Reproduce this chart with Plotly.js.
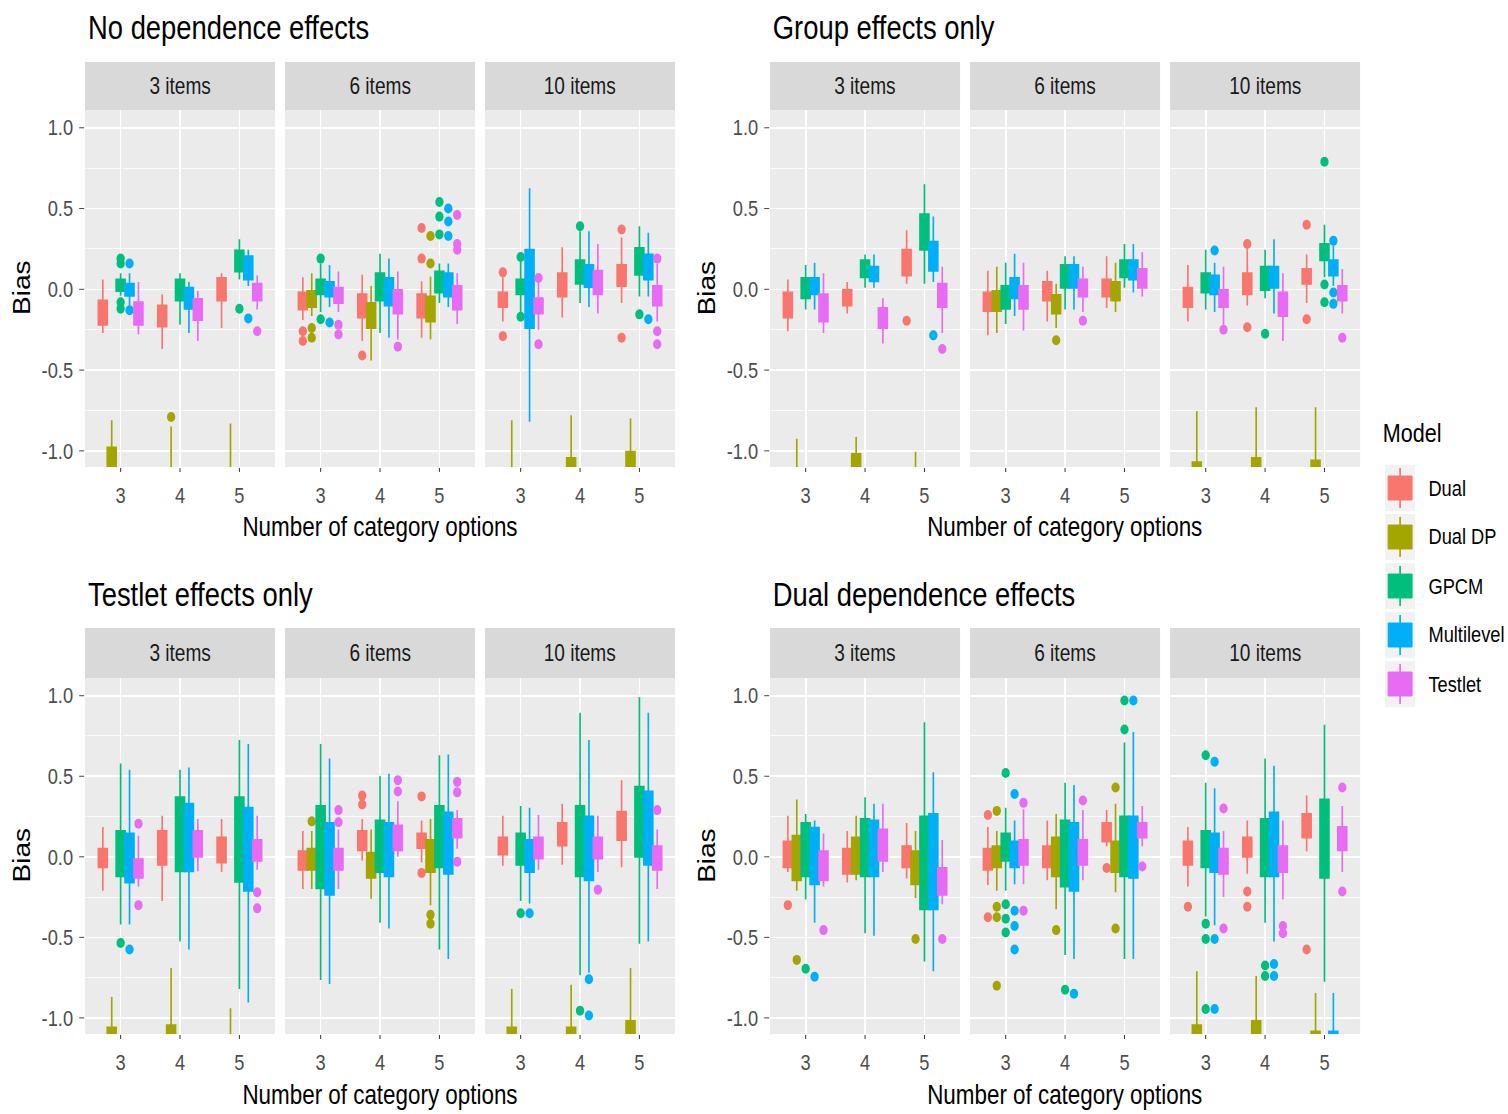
<!DOCTYPE html>
<html><head><meta charset="utf-8">
<script src="https://cdn.plot.ly/plotly-3.0.1.min.js"></script>
<style>
html,body{margin:0;padding:0;background:#fff;overflow:hidden;width:1508px;height:1114px}
#chart{transform-origin:0 0}
</style>
</head><body><div id="chart"></div>
<script>
const models = ['Dual', 'Dual DP', 'GPCM', 'Multilevel', 'Testlet'];
const modelColors = ['#F8766D', '#A3A500', '#00BF7D', '#00B0F6', '#E76BF3'];
const categories = ['3', '4', '5'];
const facetLabels = ['3 items', '6 items', '10 items'];
const panelTitles = ['No dependence effects', 'Group effects only', 'Testlet effects only', 'Dual dependence effects'];
const yTickVals = [-1, -0.5, 0, 0.5, 1];
const yTickText = ['-1.0', '-0.5', '0.0', '0.5', '1.0'];
const yMinorVals = [-0.75, -0.25, 0.25, 0.75];
const xTitle = 'Number of category options';
const yTitle = 'Bias';
const legendTitle = 'Model';

// per model -> per category (3,4,5): [lower whisker, q1, median, q3, upper whisker]
const noDep3 = [
  [[-0.27,-0.22,-0.15,-0.07,0.06],[-0.37,-0.23,-0.16,-0.10,-0.03],[-0.24,-0.07,0.00,0.07,0.10]],
  [[-1.40,-1.25,-1.10,-0.98,-0.81],[-1.50,-1.35,-1.25,-1.15,-0.85],[-1.50,-1.35,-1.25,-1.15,-0.83]],
  [[-0.04,-0.01,0.03,0.06,0.10],[-0.22,-0.07,0.00,0.06,0.10],[0.06,0.11,0.17,0.24,0.31]],
  [[-0.10,-0.04,0.00,0.035,0.10],[-0.27,-0.12,-0.06,0.01,0.045],[0.02,0.06,0.13,0.205,0.245]],
  [[-0.28,-0.22,-0.15,-0.08,0.045],[-0.32,-0.19,-0.12,-0.06,-0.01],[-0.125,-0.07,-0.02,0.035,0.085]]
];
const noDep3Out = [[[],[],[]],[[],[-0.79],[]],[[0.19,0.16,-0.08,-0.12],[],[-0.12]],[[0.16,-0.13],[],[-0.18]],[[],[],[-0.26]]];

const noDep6 = [
  [[-0.19,-0.125,-0.07,-0.02,0.075],[-0.32,-0.175,-0.10,-0.03,0.09],[-0.30,-0.175,-0.10,-0.03,0.05]],
  [[-0.165,-0.11,-0.06,-0.01,0.10],[-0.44,-0.24,-0.16,-0.085,0.02],[-0.31,-0.20,-0.12,-0.045,0.08]],
  [[-0.14,-0.03,0.02,0.06,0.16],[-0.27,-0.07,0.01,0.10,0.22],[-0.085,-0.02,0.05,0.11,0.16]],
  [[-0.11,-0.045,0.00,0.045,0.15],[-0.30,-0.10,-0.01,0.07,0.19],[-0.11,-0.045,0.03,0.10,0.16]],
  [[-0.14,-0.085,-0.04,0.01,0.11],[-0.31,-0.15,-0.08,-0.005,0.11],[-0.215,-0.125,-0.05,0.02,0.10]]
];
const noDep6Out = [[[-0.26,-0.32],[-0.41],[0.38,0.19]],[[-0.24,-0.30],[],[0.33,0.16]],[[0.19,-0.185],[],[0.54,0.45,0.34]],[[-0.205],[],[0.50,0.42,0.33]],[[-0.22,-0.28],[-0.355],[0.46,0.28,0.245]]];

const noDep10 = [
  [[-0.20,-0.11,-0.06,-0.02,0.075],[-0.175,-0.045,0.03,0.10,0.26],[-0.085,0.02,0.08,0.15,0.32]],
  [[-1.50,-1.35,-1.25,-1.15,-0.81],[-1.30,-1.20,-1.10,-1.045,-0.78],[-1.30,-1.20,-1.10,-1.005,-0.80]],
  [[-0.14,-0.03,0.015,0.06,0.17],[-0.085,0.035,0.10,0.18,0.36],[-0.045,0.09,0.17,0.255,0.39]],
  [[-0.82,-0.24,0.00,0.245,0.625],[-0.11,0.015,0.08,0.15,0.36],[-0.045,0.06,0.14,0.215,0.35]],
  [[-0.25,-0.15,-0.10,-0.055,0.04],[-0.15,-0.03,0.04,0.115,0.28],[-0.20,-0.10,-0.04,0.02,0.16]]
];
const noDep10Out = [[[0.105,-0.29],[],[0.37,-0.30]],[[],[],[]],[[0.20,-0.17],[0.39],[-0.155]],[[],[],[-0.185]],[[0.07,-0.34],[],[0.19,-0.26,-0.34]]];

const grp3 = [
  [[-0.26,-0.175,-0.10,-0.02,0.06],[-0.15,-0.10,-0.05,-0.005,0.045],[0.035,0.085,0.16,0.245,0.365]],
  [[-1.50,-1.35,-1.25,-1.15,-0.925],[-1.30,-1.20,-1.10,-1.02,-0.915],[-1.50,-1.35,-1.25,-1.15,-1.005]],
  [[-0.125,-0.055,0.01,0.07,0.15],[0.01,0.075,0.13,0.18,0.215],[0.035,0.245,0.35,0.465,0.65]],
  [[-0.125,-0.03,0.02,0.07,0.165],[0.01,0.05,0.10,0.14,0.215],[0.045,0.115,0.20,0.295,0.45]],
  [[-0.27,-0.20,-0.12,-0.03,0.10],[-0.335,-0.24,-0.18,-0.115,-0.055],[-0.27,-0.11,-0.04,0.035,0.14]]
];
const grp3Out = [[[],[],[-0.195]],[[],[],[]],[[],[],[]],[[],[],[-0.285]],[[],[],[-0.37]]];

const grp6 = [
  [[-0.285,-0.135,-0.08,-0.02,0.115],[-0.20,-0.07,-0.01,0.045,0.115],[-0.115,-0.045,0.01,0.06,0.205]],
  [[-0.27,-0.135,-0.07,-0.01,0.14],[-0.24,-0.15,-0.09,-0.035,0.035],[-0.14,-0.07,-0.01,0.045,0.165]],
  [[-0.215,-0.12,-0.05,0.02,0.165],[-0.125,0.01,0.08,0.15,0.205],[0.01,0.075,0.13,0.18,0.28]],
  [[-0.165,-0.055,0.01,0.07,0.22],[-0.125,0.01,0.08,0.15,0.205],[-0.02,0.06,0.12,0.18,0.28]],
  [[-0.255,-0.12,-0.05,0.02,0.165],[-0.14,-0.045,0.01,0.06,0.14],[-0.045,0.01,0.07,0.125,0.23]]
];
const grp6Out = [[[],[],[]],[[],[-0.315],[]],[[],[],[]],[[],[],[]],[[],[-0.195],[]]];

const grp10 = [
  [[-0.20,-0.11,-0.05,0.01,0.15],[-0.10,-0.03,0.03,0.10,0.25],[-0.085,0.035,0.08,0.125,0.215]],
  [[-1.30,-1.20,-1.12,-1.07,-0.755],[-1.30,-1.20,-1.10,-1.045,-0.73],[-1.30,-1.20,-1.12,-1.06,-0.73]],
  [[-0.125,-0.02,0.04,0.10,0.245],[-0.055,-0.005,0.07,0.14,0.245],[0.075,0.18,0.23,0.28,0.40]],
  [[-0.14,-0.03,0.03,0.085,0.165],[-0.15,0.01,0.07,0.14,0.31],[0.02,0.085,0.13,0.18,0.27]],
  [[-0.22,-0.11,-0.06,-0.005,0.14],[-0.32,-0.165,-0.09,-0.02,0.10],[-0.15,-0.07,-0.02,0.02,0.125]]
];
const grp10Out = [[[],[0.28,-0.235],[0.40,-0.185]],[[],[],[]],[[],[-0.275],[0.79,0.03,-0.08]],[[0.24],[],[0.30,-0.02,-0.09]],[[-0.25],[],[-0.30]]];

const tst3 = [
  [[-0.21,-0.065,-0.01,0.05,0.185],[-0.275,-0.05,0.05,0.16,0.255],[-0.095,-0.035,0.04,0.12,0.235]],
  [[-1.30,-1.20,-1.10,-1.06,-0.87],[-1.30,-1.20,-1.10,-1.045,-0.69],[-1.50,-1.35,-1.25,-1.15,-0.94]],
  [[-0.42,-0.12,0.02,0.16,0.58],[-0.525,-0.09,0.14,0.37,0.54],[-0.82,-0.155,0.11,0.37,0.725]],
  [[-0.42,-0.16,-0.01,0.145,0.54],[-0.575,-0.09,0.12,0.33,0.555],[-0.905,-0.21,0.05,0.305,0.70]],
  [[-0.185,-0.13,-0.07,-0.015,0.13],[-0.09,0.00,0.08,0.16,0.235],[-0.08,-0.025,0.04,0.105,0.255]]
];
const tst3Out = [[[],[],[]],[[],[],[]],[[-0.535],[],[]],[[-0.575],[],[]],[[0.205,-0.30],[],[-0.22,-0.32]]];

const tst6 = [
  [[-0.20,-0.08,-0.02,0.035,0.16],[-0.025,0.04,0.10,0.16,0.235],[-0.035,0.055,0.10,0.145,0.225]],
  [[-0.20,-0.08,-0.01,0.05,0.16],[-0.26,-0.13,-0.05,0.025,0.17],[-0.30,-0.095,0.00,0.105,0.235]],
  [[-0.765,-0.195,0.06,0.315,0.70],[-0.41,-0.095,0.06,0.225,0.50],[-0.575,-0.065,0.12,0.315,0.63]],
  [[-0.79,-0.235,-0.01,0.21,0.61],[-0.445,-0.12,0.045,0.21,0.515],[-0.635,-0.105,0.08,0.275,0.635]],
  [[-0.20,-0.08,-0.01,0.05,0.17],[0.00,0.04,0.12,0.195,0.345],[0.05,0.12,0.18,0.235,0.29]]
];
const tst6Out = [[[],[0.38,0.325],[0.375,-0.10]],[[0.22],[],[-0.36,-0.415]],[[],[],[]],[[],[],[]],[[0.29,0.215],[0.475,0.405],[0.465,0.40,-0.03]]];

const tst10 = [
  [[-0.055,0.015,0.07,0.12,0.255],[-0.05,0.07,0.14,0.21,0.33],[-0.065,0.105,0.19,0.28,0.475]],
  [[-1.30,-1.20,-1.10,-1.06,-0.82],[-1.30,-1.20,-1.10,-1.06,-0.795],[-1.30,-1.20,-1.10,-1.02,-0.69]],
  [[-0.275,-0.05,0.05,0.145,0.315],[-0.735,-0.12,0.10,0.315,0.895],[-0.54,0.00,0.22,0.435,0.99]],
  [[-0.29,-0.095,0.00,0.105,0.305],[-0.72,-0.145,0.05,0.25,0.725],[-0.525,-0.05,0.18,0.405,0.895]],
  [[-0.08,-0.01,0.05,0.12,0.26],[-0.095,-0.01,0.05,0.12,0.255],[-0.20,-0.08,-0.01,0.065,0.17]]
];
const tst10Out = [[[],[],[]],[[],[],[]],[[-0.35],[-0.955],[]],[[-0.35],[-0.76,-0.985],[]],[[],[-0.205],[0.29]]];

const dual3 = [
  [[-0.095,-0.065,0.01,0.095,0.255],[-0.16,-0.105,-0.03,0.05,0.16],[-0.135,-0.065,0.00,0.065,0.21]],
  [[-0.21,-0.145,-0.01,0.13,0.355],[-0.145,-0.105,0.01,0.12,0.255],[-0.255,-0.17,-0.07,0.035,0.16]],
  [[-0.265,-0.12,0.05,0.21,0.265],[-0.475,-0.12,0.06,0.235,0.37],[-0.65,-0.325,-0.04,0.25,0.835]],
  [[-0.41,-0.17,0.00,0.18,0.225],[-0.49,-0.12,0.05,0.225,0.33],[-0.71,-0.325,-0.03,0.265,0.525]],
  [[-0.185,-0.145,-0.05,0.035,0.145],[-0.095,-0.025,0.07,0.17,0.33],[-0.295,-0.235,-0.15,-0.07,0.105]]
];
const dual3Out = [[[-0.30],[],[]],[[-0.64],[],[-0.51]],[[-0.695],[],[]],[[-0.745],[],[]],[[-0.455],[],[-0.51]]];

const dual6 = [
  [[-0.175,-0.08,-0.01,0.05,0.185],[-0.145,-0.065,0.00,0.065,0.225],[0.065,0.095,0.15,0.21,0.29]],
  [[-0.21,-0.065,0.00,0.065,0.16],[-0.325,-0.12,0.00,0.12,0.265],[-0.22,-0.095,0.00,0.095,0.33]],
  [[-0.21,-0.025,0.06,0.145,0.305],[-0.61,-0.185,0.02,0.225,0.46],[-0.635,-0.12,0.07,0.25,0.71]],
  [[-0.17,-0.065,0.01,0.095,0.225],[-0.635,-0.21,0.00,0.21,0.445],[-0.635,-0.13,0.06,0.25,0.775]],
  [[-0.17,-0.05,0.03,0.105,0.295],[-0.145,-0.05,0.03,0.105,0.29],[0.065,0.12,0.16,0.21,0.315]]
];
const dual6Out = [[[0.26,-0.375],[],[-0.07]],[[0.285,-0.31,-0.375,-0.80],[-0.455],[0.43,-0.445]],[[0.52,-0.295,-0.385,-0.47],[-0.825],[0.97,0.79]],[[0.39,-0.335,-0.43,-0.575],[-0.85],[0.97]],[[0.335,-0.335],[0.35],[-0.06]]];

const dual10 = [
  [[-0.185,-0.05,0.02,0.095,0.185],[-0.105,0.00,0.06,0.12,0.225],[0.035,0.12,0.19,0.265,0.38]],
  [[-1.30,-1.20,-1.10,-1.045,-0.71],[-1.30,-1.20,-1.10,-1.02,-0.74],[-1.40,-1.30,-1.20,-1.085,-0.845]],
  [[-0.37,-0.065,0.05,0.16,0.46],[-0.41,-0.12,0.06,0.235,0.61],[-0.775,-0.13,0.11,0.355,0.82]],
  [[-0.425,-0.095,0.03,0.145,0.425],[-0.525,-0.12,0.08,0.275,0.565],[-1.40,-1.30,-1.20,-1.085,-0.845]],
  [[-0.25,-0.105,-0.03,0.05,0.16],[-0.265,-0.095,-0.01,0.065,0.225],[-0.095,0.04,0.11,0.185,0.315]]
];
const dual10Out = [[[-0.31],[-0.215,-0.31],[-0.575]],[[],[],[]],[[0.63,-0.415,-0.51,-0.945],[-0.675,-0.74],[]],[[0.59,-0.51,-0.945],[-0.665,-0.74],[]],[[0.30,-0.445],[-0.43,-0.475],[0.43,-0.215]]];

const panelStats = [[noDep3, noDep6, noDep10], [grp3, grp6, grp10], [tst3, tst6, tst10], [dual3, dual6, dual10]];
const panelOut = [[noDep3Out, noDep6Out, noDep10Out], [grp3Out, grp6Out, grp10Out], [tst3Out, tst6Out, tst10Out], [dual3Out, dual6Out, dual10Out]];

// ---------- geometry (reference pixels) ----------
const W = 1508, H = 1114;
const SQUEEZE = 0.83;              // the reference is rendered horizontally condensed
const WP = Math.round(W / SQUEEZE);
const FONT = '"Liberation Sans", Arial, sans-serif';
const colLeft = [[85, 285, 485], [770, 970, 1170]];
const facetW = 190;
const rowTop = [110, 678], rowBot = [467, 1034];
const stripH = [48, 50];
const titleY = [27, 594];
const xTitleY = [527, 1095];
const xTitleX = [380, 1065];
const yTitleX = [22, 707];
const px = v => v / W, py = v => 1 - v / H;

const chartDiv = document.getElementById('chart');
chartDiv.style.width = WP + 'px';
chartDiv.style.height = H + 'px';
chartDiv.style.transform = 'scaleX(' + SQUEEZE + ')';

const traces = [];
const layout = {
  width: WP, height: H,
  margin: {l: 0, r: 0, t: 0, b: 0},
  paper_bgcolor: 'white', plot_bgcolor: '#EBEBEB',
  boxmode: 'group', boxgap: 0.25, boxgroupgap: 0,
  showlegend: false,
  font: {family: FONT, color: '#1A1A1A'},
  shapes: [], annotations: []
};

for (let p = 0; p < 4; p++) {
  const col = p % 2, row = Math.floor(p / 2);
  for (let f = 0; f < 3; f++) {
    const k = p * 3 + f + 1;
    const xn = k === 1 ? 'x' : 'x' + k, yn = k === 1 ? 'y' : 'y' + k;
    const x0 = colLeft[col][f], x1 = x0 + facetW;
    layout[k === 1 ? 'xaxis' : 'xaxis' + k] = {
      domain: [px(x0), px(x1)], anchor: yn,
      type: 'category', categoryorder: 'array', categoryarray: categories,
      range: [-0.6, 2.6], fixedrange: true,
      showgrid: true, gridcolor: '#FFFFFF', gridwidth: 2,
      zeroline: false, showline: false,
      ticks: 'outside', ticklen: 4, tickwidth: 1.2, tickcolor: '#333333',
      ticklabelstandoff: 5,
      tickfont: {family: FONT, size: 22, color: '#4D4D4D'}
    };
    layout[k === 1 ? 'yaxis' : 'yaxis' + k] = {
      domain: [py(rowBot[row]), py(rowTop[row])], anchor: xn,
      range: [-1.1, 1.11], fixedrange: true,
      tickmode: 'array', tickvals: yTickVals, ticktext: yTickText,
      showticklabels: f === 0, ticks: f === 0 ? 'outside' : '',
      ticklen: 6, tickwidth: 1, tickcolor: '#333333', ticklabelstandoff: 3,
      tickfont: {family: FONT, size: 22, color: '#4D4D4D'},
      showgrid: true, gridcolor: '#FFFFFF', gridwidth: 1.6,
      minor: {tickvals: yMinorVals, showgrid: true, gridcolor: '#FFFFFF', gridwidth: 0.8, ticks: ''},
      zeroline: false, showline: false
    };
    models.forEach((m, mi) => {
      const st = panelStats[p][f][mi];
      const outs = panelOut[p][f][mi];
      const c = modelColors[mi];
      categories.forEach((cat, ci) => {
        const s = st[ci];
        const tr = {
          type: 'box', orientation: 'v', name: m,
          x: [cat],
          lowerfence: [s[0]], q1: [s[1]], median: [s[2]], q3: [s[3]], upperfence: [s[4]],
          marker: {color: c, size: 10, line: {width: 0}},
          line: {color: c, width: 2}, fillcolor: c, whiskerwidth: 0,
          offsetgroup: String(mi), xaxis: xn, yaxis: yn,
          showlegend: false, hoverinfo: 'skip', boxpoints: false
        };
        if (outs[ci].length) {
          tr.y = [outs[ci]];
          tr.boxpoints = 'all'; tr.jitter = 0; tr.pointpos = 0;
        }
        traces.push(tr);
      });
    });
    layout.shapes.push({
      type: 'rect', xref: 'paper', yref: 'paper', layer: 'below',
      x0: px(x0), x1: px(x1), y0: py(rowTop[row]), y1: py(rowTop[row] - stripH[row]),
      fillcolor: '#D9D9D9', line: {width: 0}
    });
    layout.annotations.push({
      text: facetLabels[f], xref: 'paper', yref: 'paper', showarrow: false,
      x: px(x0 + facetW / 2), y: py(rowTop[row] - stripH[row] / 2),
      xanchor: 'center', yanchor: 'middle',
      font: {family: FONT, size: 23, color: '#1A1A1A'}
    });
  }
  const left = colLeft[col][0];
  layout.annotations.push({
    text: panelTitles[p], xref: 'paper', yref: 'paper', showarrow: false,
    x: px(left + 1), y: py(titleY[row]), xanchor: 'left', yanchor: 'middle',
    font: {family: FONT, size: 33, color: '#000000'}
  });
  layout.annotations.push({
    text: xTitle, xref: 'paper', yref: 'paper', showarrow: false,
    x: px(xTitleX[col]), y: py(xTitleY[row]), xanchor: 'center', yanchor: 'middle',
    font: {family: FONT, size: 27, color: '#000000'}
  });
  layout.annotations.push({
    text: yTitle, xref: 'paper', yref: 'paper', showarrow: false, textangle: -90,
    x: px(yTitleX[col]), y: py((rowTop[row] + rowBot[row]) / 2), xanchor: 'center', yanchor: 'middle',
    font: {family: FONT, size: 28, color: '#000000'}
  });
}

// ---------- legend (drawn as shapes) ----------
layout.annotations.push({
  text: legendTitle, xref: 'paper', yref: 'paper', showarrow: false,
  x: px(1381), y: py(433), xanchor: 'left', yanchor: 'middle',
  font: {family: FONT, size: 26, color: '#000000'}
});
models.forEach((m, i) => {
  const cy = 488 + 49 * i;
  const c = modelColors[i];
  layout.shapes.push({type: 'rect', xref: 'paper', yref: 'paper', x0: px(1385), x1: px(1415), y0: py(cy + 23), y1: py(cy - 23), fillcolor: '#F2F2F2', line: {width: 0}});
  layout.shapes.push({type: 'line', xref: 'paper', yref: 'paper', x0: px(1400), x1: px(1400), y0: py(cy + 20), y1: py(cy - 20), line: {color: c, width: 2}});
  layout.shapes.push({type: 'rect', xref: 'paper', yref: 'paper', x0: px(1388), x1: px(1412), y0: py(cy + 12), y1: py(cy - 12), fillcolor: c, line: {color: c, width: 1}});
  layout.annotations.push({
    text: m, xref: 'paper', yref: 'paper', showarrow: false,
    x: px(1427), y: py(cy), xanchor: 'left', yanchor: 'middle',
    font: {family: FONT, size: 22, color: '#000000'}
  });
});

Plotly.newPlot(chartDiv, traces, layout, {staticPlot: true, displayModeBar: false});
</script>
</body></html>
